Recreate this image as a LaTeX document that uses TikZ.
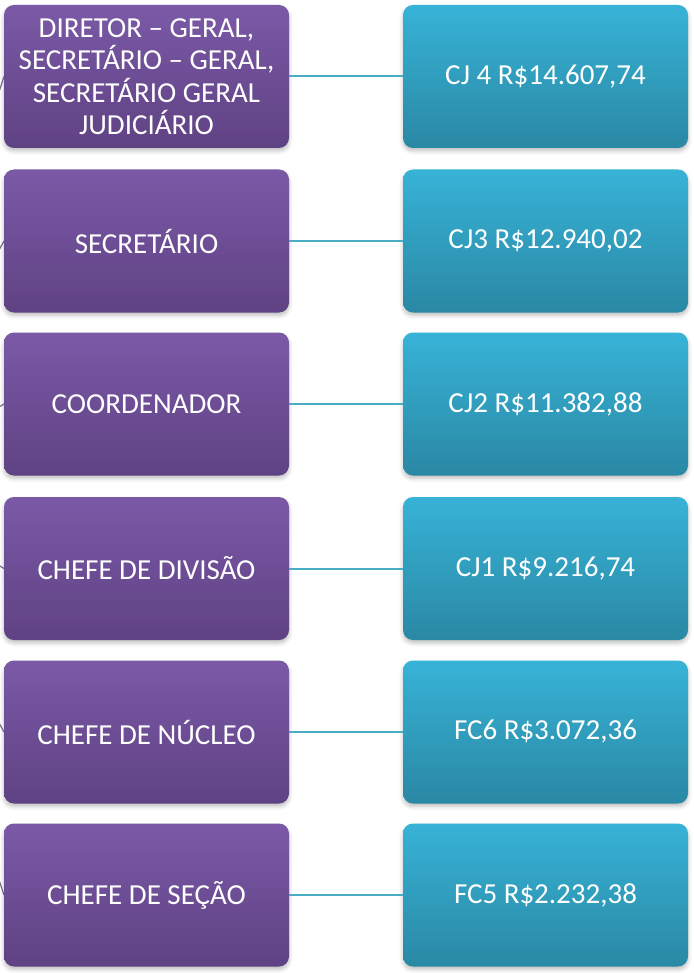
\documentclass[tikz,border=0pt]{standalone}
\usepackage{fontspec}
\setmainfont{Carlito}
\usetikzlibrary{shadows.blur}
\definecolor{purtop}{HTML}{7B59A7}
\definecolor{purbot}{HTML}{5F4283}
\definecolor{bluetop}{HTML}{37B3D7}
\definecolor{bluebot}{HTML}{2A88A4}
\definecolor{conn}{HTML}{4BACC6}
\definecolor{parentln}{HTML}{7E6E8E}
\tikzset{
  box/.style={rounded corners=10pt, minimum width=285pt, minimum height=143pt,
    inner sep=0pt, text=white, align=center, font=\fontsize{29}{32.5}\selectfont,
    blur shadow={shadow xshift=0pt, shadow yshift=-3pt, shadow blur radius=4pt, shadow opacity=25}},
  rolebox/.style={box, top color=purtop, bottom color=purbot},
  paybox/.style={box, top color=bluetop, bottom color=bluebot},
  link/.style={draw=conn, line width=2pt},
  plink/.style={draw=parentln, line width=1.2pt}
}
\begin{document}
\begin{tikzpicture}[x=1pt,y=-1pt]
\useasboundingbox (0,0) rectangle (693,973);
\coordinate (parent) at (-130,486);
\foreach \i/\y in {1/76.5,2/241,3/404,4/568.5,5/732,6/895}{
  \coordinate (w\i) at (4,\y);
}
\begin{scope}
\clip (0,0) rectangle (693,973);
\foreach \i in {1,...,6}{ \draw[plink] (parent) -- (w\i); }
\end{scope}
\node[rolebox] (r1) at (146.5,76.5) {DIRETOR – GERAL,\\SECRETÁRIO – GERAL,\\SECRETÁRIO GERAL\\JUDICIÁRIO};
\node[rolebox] (r2) at (146.5,241) {SECRETÁRIO};
\node[rolebox] (r3) at (146.5,404) {COORDENADOR};
\node[rolebox] (r4) at (146.5,568.5) {CHEFE DE DIVISÃO};
\node[rolebox] (r5) at (146.5,732) {CHEFE DE NÚCLEO};
\node[rolebox] (r6) at (146.5,895) {CHEFE DE SEÇÃO};
\node[paybox] (p1) at (545.5,76.5) {CJ 4 R\$14.607,74};
\node[paybox] (p2) at (545.5,241) {CJ3 R\$12.940,02};
\node[paybox] (p3) at (545.5,404) {CJ2 R\$11.382,88};
\node[paybox] (p4) at (545.5,568.5) {CJ1 R\$9.216,74};
\node[paybox] (p5) at (545.5,732) {FC6 R\$3.072,36};
\node[paybox] (p6) at (545.5,895) {FC5 R\$2.232,38};
\foreach \i in {1,...,6}{ \draw[link] (r\i.east) -- (p\i.west); }
\end{tikzpicture}
\end{document}
